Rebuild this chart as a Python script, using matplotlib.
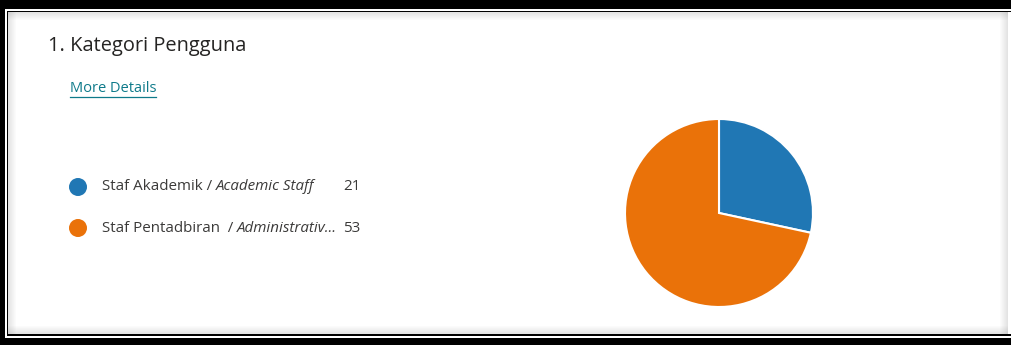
import matplotlib.pyplot as plt
from matplotlib.patches import Rectangle, Circle

plt.rcParams['font.family'] = ['Open Sans', 'DejaVu Sans']

title = "1. Kategori Pengguna"
link_text = "More Details"
labels_main = ["Staf Akademik / ", "Staf Pentadbiran  / "]
labels_en = ["Academic Staff", "Administrativ..."]
counts = [21, 53]
colors = ['#2077b4', '#ea7209']

W, H = 1011, 345
fig = plt.figure(figsize=(W / 100, H / 100), dpi=100)
fig.patch.set_facecolor('black')

# background / frame, drawn in pixel coords (y down)
bg = fig.add_axes([0, 0, 1, 1])
bg.set_xlim(0, W)
bg.set_ylim(H, 0)
bg.axis('off')
bg.add_patch(Rectangle((5, 9), W, 329, color='white', lw=0))
bg.add_patch(Rectangle((6.5, 10.5), W, 325.5, color='black', lw=0))
bg.add_patch(Rectangle((8, 12), W, 322, color='white', lw=0))
# soft inner shadow
for i in range(8):
    a = 0.22 * (1 - i / 8)
    g = (0.5, 0.5, 0.5, a)
    bg.add_patch(Rectangle((8 + i, 12), 1, 322, color=g, lw=0))
    bg.add_patch(Rectangle((8, 12 + i), 1000, 1, color=g, lw=0))
    bg.add_patch(Rectangle((1007 - i, 12), 1, 322, color=g, lw=0))
    bg.add_patch(Rectangle((8, 333 - i), 1000, 1, color=g, lw=0))

# title and link
bg.text(48, 46, title, fontsize=14.4, color='#252423', va='center', ha='left')
bg.text(70, 89, link_text, fontsize=10.5, color='#0e7a8a', va='center', ha='left')
bg.plot([70, 156], [97, 97], color='#0e7a8a', lw=0.9)

# legend
ys = [187, 228]
for y, lm, le, c, col in zip(ys, labels_main, labels_en, counts, colors):
    bg.add_patch(Circle((78, y), 9, color=col, lw=0))
    t = bg.text(102, y, lm, fontsize=10.9, color='#3b3a39', va='center', ha='left')
    bg.annotate(le, xy=(1, 0.5), xycoords=t, fontsize=10.9, color='#3b3a39',
                style='italic', va='center', ha='left')
    bg.text(343, y, str(c), fontsize=10.9, color='#3b3a39', va='center', ha='left')

# pie
cx, cy, r = 719, 213, 94
size = 200
ax = fig.add_axes([(cx - size / 2) / W, (H - cy - size / 2) / H, size / W, size / H])
ax.pie(counts, colors=colors, startangle=90, counterclock=False, radius=r / (size / 2),
       wedgeprops=dict(edgecolor='white', linewidth=1.5))
ax.set_xlim(-1, 1)
ax.set_ylim(-1, 1)
ax.set_aspect('auto')
ax.axis('off')

fig.savefig('out.png', dpi=100, facecolor=fig.get_facecolor())
